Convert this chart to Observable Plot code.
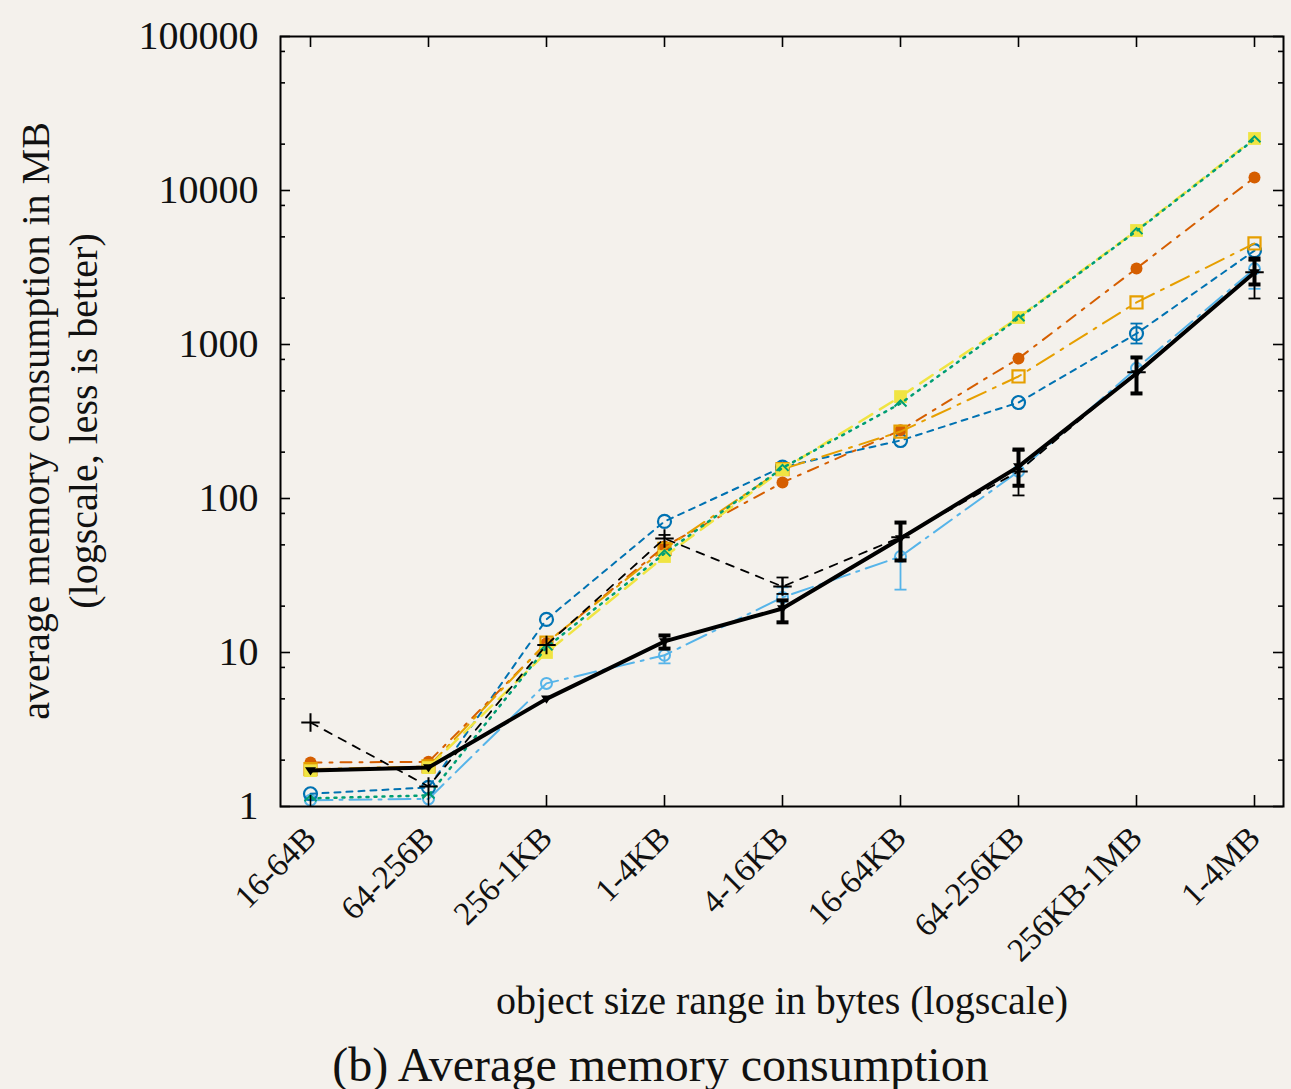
<!DOCTYPE html>
<html><head><meta charset="utf-8">
<script src="https://cdn.jsdelivr.net/npm/d3@7"></script>
<script src="https://cdn.jsdelivr.net/npm/@observablehq/plot@0.6"></script>
<style>
body{margin:0;background:#f4f1ec;width:1291px;overflow:hidden;}
#chart svg{display:block;}
#cap{font-family:"Liberation Serif","Times New Roman",serif;font-size:48px;line-height:50px;text-align:center;padding-left:30px;color:#111;}
</style></head><body>
<div id="chart"></div>
<div id="cap">(b) Average memory consumption</div>
<script>
const categories = ["16-64B","64-256B","256-1KB","1-4KB","4-16KB","16-64KB","64-256KB","256KB-1MB","1-4MB"];
const yMajor = [1,10,100,1000,10000,100000];
const yMinor = [2,5,8,20,50,80,200,500,800,2000,5000,8000,20000,50000,80000];

const blackSolid   = [1.71,1.79,5.0,11.8,19.3,55,161,648,2936];
const blackSolidLo = [null,null,null,10.6,15.7,39.6,121,481,2454];
const blackSolidHi = [null,null,null,12.9,21.8,69.8,208,824,3616];
const blackDashed   = [3.51,1.35,11.2,55,26.8,56,150,660,2950];
const blackDashedLo = [null,null,null,null,24,null,104.7,null,1990];
const blackDashedHi = [null,null,null,58,30.7,null,205,null,3500];
const lightBlue   = [1.1,1.12,6.3,9.6,22.8,42,150,700,3100];
const lightBlueLo = [null,null,null,8.5,null,25.6,null,null,2300];
const lightBlueHi = [null,null,null,null,26.5,null,null,830,null];
const darkBlue   = [1.21,1.33,16.4,71,160,238,420,1178,4070];
const darkBlueLo = [null,null,null,null,null,null,null,1015,null];
const darkBlueHi = [null,null,null,null,null,null,null,1368,null];
const green     = [1.13,1.18,10.8,44,158,414,1480,5450,21500];
const yellow    = [1.71,1.79,10.0,42,154,459,1497,5500,21770];
const vermilion = [1.93,1.95,11.5,48.8,127,277,811,3118,12140];
const orange    = [1.75,1.82,11.6,47,155,272,620,1875,4530];

const rad = s => Math.sqrt(s / Math.PI);
const capSym = {draw(c, s){const r = rad(s); c.moveTo(-r,0); c.lineTo(r,0);}};
const triDown = {draw(c, s){const r = rad(s); c.moveTo(-r,-r*0.6); c.lineTo(r,-r*0.6); c.lineTo(0,r*0.9); c.closePath();}};
const chevron = {draw(c, s){const r = rad(s); c.moveTo(-r,r*0.5); c.lineTo(0,-r*0.5); c.lineTo(r,r*0.5);}};

const rows = (vals, lo, hi) => categories.map((cat, i) => ({cat, value: vals[i], lo: lo ? lo[i] : null, hi: hi ? hi[i] : null}));

const series = [
  {data: rows(lightBlue, lightBlueLo, lightBlueHi), stroke:"#56B4E9", dash:"22,7,3,7", w:2, symbol:"circle", fill:"none", r:5.5, sw:2},
  {data: rows(darkBlue, darkBlueLo, darkBlueHi), stroke:"#0072B2", dash:"6,6", w:2, symbol:"circle", fill:"none", r:6.5, sw:2.2},
  {data: rows(vermilion), stroke:"#D55E00", dash:"11,8,3,8", w:2, symbol:"circle", fill:"#D55E00", r:6, sw:0},
  {data: rows(orange), stroke:"#E69F00", dash:"20,8,3,8", w:2, symbol:"square", fill:"none", r:6.8, sw:2.2},
  {data: rows(yellow), stroke:"#F0E442", dash:"15,9", w:2.5, symbol:"square", fill:"#F0E442", r:7.2, sw:0},
  {data: rows(green), stroke:"#009E73", dash:"2,6", w:2.5, symbol:chevron, fill:"none", r:6, sw:2},
  {data: rows(blackDashed, blackDashedLo, blackDashedHi), stroke:"black", dash:"8,8", w:1.8, symbol:"plus", fill:"none", r:6, sw:2},
  {data: rows(blackSolid, blackSolidLo, blackSolidHi), stroke:"black", dash:null, w:4, symbol:triDown, fill:"black", r:5.5, sw:0, ew:4}
];

const fw = 1291 - 280 - 8, fh = 806 - 36;
const marks = [];
for (const s of series) {
  marks.push(Plot.line(s.data, {x:"cat", y:"value", stroke:s.stroke, strokeWidth:s.w, strokeDasharray:s.dash || undefined, strokeLinejoin:"round"}));
  const eb = s.data.filter(d => d.lo != null || d.hi != null);
  if (eb.length) {
    const ew = s.ew || 1.8;
    marks.push(Plot.ruleX(eb, {x:"cat", y1:d => d.lo ?? d.value, y2:d => d.hi ?? d.value, stroke:s.stroke, strokeWidth:ew}));
    marks.push(Plot.dot(eb.filter(d => d.lo != null), {x:"cat", y:"lo", symbol:capSym, r:6, stroke:s.stroke, strokeWidth:ew, fill:"none"}));
    marks.push(Plot.dot(eb.filter(d => d.hi != null), {x:"cat", y:"hi", symbol:capSym, r:6, stroke:s.stroke, strokeWidth:ew, fill:"none"}));
  }
  marks.push(Plot.dot(s.data, {x:"cat", y:"value", symbol:s.symbol, r:s.r, fill:s.fill, stroke: s.sw ? s.stroke : "none", strokeWidth:s.sw}));
}
// frame ticks (inward, mirrored)
marks.push(Plot.tickY(yMajor, {y:d => d, insetRight: fw - 10, stroke:"black", strokeWidth:1.6}));
marks.push(Plot.tickY(yMajor, {y:d => d, insetLeft: fw - 10, stroke:"black", strokeWidth:1.6}));
marks.push(Plot.tickY(yMinor, {y:d => d, insetRight: fw - 5, stroke:"black", strokeWidth:1.6}));
marks.push(Plot.tickY(yMinor, {y:d => d, insetLeft: fw - 5, stroke:"black", strokeWidth:1.6}));
marks.push(Plot.tickX(categories, {x:d => d, insetBottom: fh - 11, stroke:"black", strokeWidth:1.6}));
marks.push(Plot.tickX(categories, {x:d => d, insetTop: fh - 11, stroke:"black", strokeWidth:1.6}));
marks.push(Plot.frame({stroke:"black", strokeWidth:2}));
marks.push(Plot.axisY({ticks: yMajor, tickFormat: d => String(d), tickSize:0, tickPadding:22, fontSize:40, label:null}));
marks.push(Plot.axisX({tickRotate:-45, tickSize:0, tickPadding:26, fontSize:33, label:null}));

const chart = Plot.plot({
  width:1291, height:1040,
  marginLeft:280, marginRight:8, marginTop:36, marginBottom:234,
  style:{background:"transparent", fontFamily:"'Liberation Serif','Times New Roman',serif", color:"#111"},
  x:{type:"point", domain:categories, padding:0.25, label:null},
  y:{type:"log", domain:[1,100000], label:null},
  marks
});
document.getElementById("chart").appendChild(chart);

const svg = d3.select(chart);
const ff = "'Liberation Serif','Times New Roman',serif";
svg.append("text").attr("transform","translate(40,421) rotate(-90)").attr("text-anchor","middle").attr("dominant-baseline","middle")
  .attr("font-family",ff).attr("font-size",40).attr("fill","#111").text("average memory consumption in MB");
svg.append("text").attr("transform","translate(88,421) rotate(-90)").attr("text-anchor","middle").attr("dominant-baseline","middle")
  .attr("font-family",ff).attr("font-size",40).attr("fill","#111").text("(logscale, less is better)");
svg.append("text").attr("x",782).attr("y",1005).attr("text-anchor","middle").attr("dominant-baseline","middle")
  .attr("font-family",ff).attr("font-size",40).attr("fill","#111").text("object size range in bytes (logscale)");
</script></body></html>
